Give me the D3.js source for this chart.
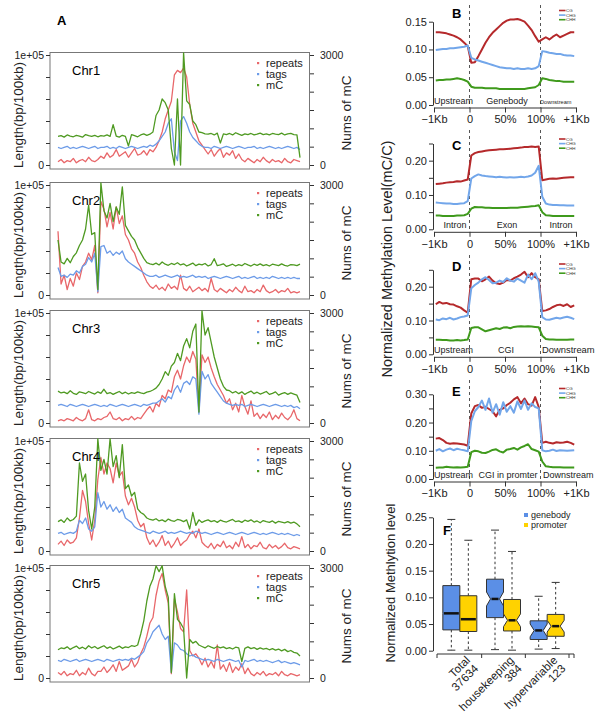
<!DOCTYPE html>
<html>
<head>
<meta charset="utf-8">
<script src="https://d3js.org/d3.v7.min.js"></script>
<style>
body { margin: 0; background: #fff; }
svg { font-family: "Liberation Sans", Arial, sans-serif; }
</style>
</head>
<body>
<svg id="fig" width="600" height="716"></svg>
<script>

// ---------- panel A : repeats / tags (kb per 100kb) and mC counts along each chromosome ----------
var chrNames = ["Chr1", "Chr2", "Chr3", "Chr4", "Chr5"];
var seriesNames = ["repeats", "tags", "mC"];

var chr1Repeats = [3,5,2,4,3,6,2,4,5,3,7,4,3,5, 8,6,11,7,9,14,8,10,12,7,11,15,9,10,13,9,14,12, 16,22,30, 42,50,58, 82,86,84,88,80, 55,38,30, 22,18,14, 10,14,8,12,15,7,11,9,13,6,10, 5,3,6,4,2,5,3,7,4,2,5,3,4,2,6,3,2,5,4,3];
var chr1Tags = [16,15,16,17,15,16,15,16,17,16,15,16,17,15,16,16,17,15,16,15,17,16,15,16,17,16,15,16,17,16,18,17, 19,22,26, 30,38,42, 12,4,40,44,38, 30,25,22, 19,17,16, 16,15,17,16,15,16,17,16,15,16,17,16,15,16,16,17,15,16,15,16,17,16,15,16,15,16,17,16,15,16,14];
var chr1MC = [780,800,760,820,790,770,810,790,760,830,800,780,810,770,800,790,820,780,1100,790,760,810,780,520,830,800,770,820,850,810,840,900, 1350,1500,1800, 1700,1500,450, 0,1800,0,3060,1750, 1650,1200,1100, 900,880,850, 840,860,820,870,600,850,830,860,820,880,840,810,850,830,860,820,840,870,830,850,820,860,840,830,870,820,850,860,830,820,200];

var chr2Repeats = [58,10,18,5,15,8,20,14,26,30,38,32,45,2,85,78,62,75,60,80,65,72,55,50,42,38,30,25,18,12,8,6,9,5,7,4,10,6,8,5,18,6,4,8,3,5,7,4,6,3,15,5,3,6,4,2,5,3,7,4,2,8,3,4,2,5,3,9,4,2,3,5,2,4,3,6,2,3,2,3];
var chr2Tags = [25,17,18,16,19,18,22,20,26,28,34,30,38,3,44,45,38,40,36,39,37,40,33,30,28,26,24,22,20,18,17, 17,18,16,17,18,17,16,17,18,16,17,16,17,18,16,17,16,17,15,16,17,16,15,16,17,16,15,16,17,15,16,15,16,17,15,16,15,16,15,17,16,15,16,15,16,15,16,15,15];
var chr2MC = [1500,900,850,1000,880,1050,1150,1350,1500,1800,2450,1650,1700,150,3060,2300,2100,2500,2000,2400,2200,2950,1900,1750,1600,1500,1300,1150,1000,880,850, 830,870,820,900,840,810,860,830,880,820,850,790,830,870,800,840,820,860,790,830,990,800,820,850,780,810,840,790,830,800,860,820,790,840,810,850,800,830,790,840,820,800,850,810,790,830,820,800,840];

var chr3Repeats = [2,3,2,4,3,2,5,3,2,4,12,3,2,4,3,5,6,10,4,3,5,2,4,3,6,3,5,4,8, 12,15,10, 18,15,25,22,30,28, 42,48,40,52, 60,55,65,58,10,62,55,60,50, 42,35,30,25,18, 22,12,18,10,25,15,8,20, 6,9,4,8,5,10,3,7,4,9,5,3,6,12,4,2];
var chr3Tags = [16,17,16,15,17,16,15,16,17,16,15,16,17,16,15,16,15,17,16,15,16,17,16,15,16,17,16,15,17,16,17,18, 18,20,22,19,24,22, 30,34,28,36, 38,35,42,40,8,47,40,44,36, 32,28,24,20,18, 17,16,17,16,17,15,16,17,16,15,16,17,16,15,16,17,16,15,16,15,16,14,15,13];
var chr3MC = [870,820,840,800,880,810,780,850,830,800,860,820,790,850,810,920,800,830,780,820,860,800,840,790,830,810,850,820,800,840,860,900, 950,1050,1200,1400,1300,1550, 1650,1900,1700,2100, 2300,2050,2500,2700,300,3060,2400,2600,2200, 1800,1500,1200,1000,900, 880,820,860,800,850,780,830,870,800,840,790,820,860,780,810,850,760,800,830,780,820,790,760,560];

var chr4Repeats = [6,9,5,10,7,8,12, 30,55,45, 25,10,28, 65,85,70,80, 75,62,80,68,72, 50,42,48,40, 28,22,25, 12,6,10,4,8,14,5,9,3,7,12,5,8,10, 15,18,12,20,8, 5,3,7,2,6,4,9,3,5,2,8,4,13,3,6,2,5,4,8,3,2,6,3,5,2,4,7,3,2,4,3,2];
var chr4Tags = [16,17,15,16,17,16,18, 28,25,30, 20,18,22, 53,40,45,38, 42,36,40,35,38, 30,28,26,22, 20,19,18, 17,16,18,17,16,17,18,16,17,16,17,18,17,16,17,16,18,17,16,17,16,15,16,17,16,15,16,17,16,15,16,17,16,15,16,17,16,15,16,15,16,17,16,15,16,15,16,15,14,15,14];
var chr4MC = [800,850,780,900,820,860,950, 2400,1900,2100, 1100,600,1200, 3060,2200,2500,2100, 3060,2300,2600,2000,2900, 1700,1800,1500,1600, 1150,1050,1000, 900,860,840,880,820,850,800,870,830,810,860,840,800,850, 600,1050,700,850,780, 820,850,800,830,780,840,810,790,830,860,800,820,780,840,810,850,790,820,770,830,800,780,820,760,810,790,770,800,760,790,740,660];

var chr5Repeats = [5,3,6,2,4,3,7,2,5,3,9,4,2,6, 6,10,5,8,12,6,15,7,9,11,17,10,14, 22,28, 38,50,55, 75,88,95,80, 68,4,72,60, 45,42, 80, 25,20,22,18, 12,18,10,15,9, 30,8,12,6,14,5,10,7,13,4,9, 4,2,5,3,6,2,4,3,5,2,6,3,2,4,3,2,3];
var chr5Tags = [16,15,17,16,15,16,17,15,16,17,16,15,16,17,16,15,17,16,15,16,17,16,17,16,18,17,19, 21,24, 32,36,42, 45,48,40,35, 38,5,32,30, 26,25, 22, 20,21,19,18, 17,16,17,16,15,17,16,15,16,17,16,15,16,10,16,15,16,17,15,16,15,16,15,14,15,16,14,15,14,13,14,13,12];
var chr5MC = [770,820,800,850,780,830,870,800,840,790,880,820,860,800,840,880,810,850,790,830,870,810,850,830,880,860,900, 1200,1560, 2100,2500,2700, 3060,2900,3060,2500, 2200,150,2300,1600, 1500,1350, 0, 1050,950,1000,900, 860,820,880,840,810, 860,820,850,800,830,790,840,820,450,810,850, 800,830,780,820,790,810,770,800,760,790,740,780,720,750,700,680,600];

// ---------- panels B-E : methylation profiles (10 upstream, 20 body, 10 downstream bins) ----------
var contexts = ["CG", "CHG", "CHH"];
var profXLabels = ["\u22121Kb", "0", "50%", "100%", "+1Kb"];

var bCG = [0.131,0.131,0.130,0.129,0.127,0.125,0.122,0.118,0.112,0.106, 0.076,0.077,0.088,0.100,0.112,0.122,0.130,0.136,0.142,0.148,0.152,0.154,0.154,0.155,0.153,0.150,0.143,0.135,0.124,0.114, 0.118,0.122,0.118,0.123,0.127,0.122,0.125,0.128,0.131,0.131];
var bCHG = [0.099,0.100,0.101,0.101,0.102,0.102,0.103,0.104,0.105,0.107, 0.085,0.082,0.080,0.078,0.076,0.074,0.072,0.070,0.068,0.067,0.066,0.066,0.065,0.066,0.065,0.065,0.066,0.065,0.066,0.070, 0.097,0.096,0.094,0.093,0.092,0.092,0.090,0.089,0.089,0.088];
var bCHH = [0.044,0.045,0.045,0.046,0.046,0.047,0.048,0.047,0.045,0.042, 0.033,0.031,0.031,0.031,0.030,0.030,0.030,0.030,0.029,0.029,0.029,0.029,0.029,0.029,0.029,0.029,0.030,0.031,0.032,0.036, 0.048,0.047,0.045,0.044,0.043,0.043,0.042,0.042,0.042,0.042];

var cCG = [0.132,0.133,0.134,0.136,0.137,0.138,0.140,0.139,0.142,0.145, 0.215,0.222,0.225,0.227,0.229,0.230,0.231,0.232,0.233,0.233,0.234,0.235,0.236,0.237,0.238,0.240,0.240,0.241,0.240,0.241, 0.143,0.145,0.147,0.148,0.147,0.149,0.150,0.151,0.152,0.152];
var cCHG = [0.078,0.077,0.076,0.075,0.075,0.074,0.074,0.075,0.076,0.082, 0.148,0.155,0.160,0.157,0.155,0.154,0.153,0.152,0.153,0.152,0.151,0.152,0.151,0.152,0.153,0.152,0.154,0.157,0.165,0.185, 0.095,0.075,0.072,0.071,0.071,0.070,0.070,0.069,0.069,0.069];
var cCHH = [0.040,0.040,0.039,0.039,0.039,0.039,0.040,0.040,0.041,0.045, 0.060,0.065,0.064,0.064,0.063,0.063,0.062,0.062,0.062,0.062,0.062,0.063,0.063,0.063,0.064,0.065,0.066,0.067,0.068,0.070, 0.050,0.041,0.040,0.039,0.039,0.039,0.039,0.039,0.039,0.039];

var dCG = [0.148,0.155,0.150,0.152,0.148,0.147,0.142,0.138,0.130,0.123, 0.222,0.224,0.224,0.216,0.222,0.230,0.218,0.210,0.208,0.212,0.220,0.218,0.225,0.230,0.236,0.244,0.228,0.240,0.228,0.222, 0.128,0.130,0.134,0.140,0.145,0.147,0.143,0.148,0.140,0.145];
var dCHG = [0.103,0.101,0.106,0.104,0.108,0.103,0.106,0.110,0.112,0.115, 0.195,0.205,0.212,0.222,0.228,0.220,0.210,0.212,0.218,0.214,0.225,0.218,0.215,0.224,0.218,0.212,0.236,0.222,0.240,0.215, 0.110,0.103,0.102,0.105,0.108,0.106,0.109,0.111,0.108,0.104];
var dCHH = [0.043,0.043,0.042,0.042,0.041,0.041,0.042,0.041,0.042,0.044, 0.078,0.080,0.080,0.074,0.068,0.071,0.074,0.077,0.075,0.079,0.080,0.077,0.081,0.082,0.083,0.082,0.083,0.082,0.081,0.080, 0.055,0.045,0.044,0.044,0.043,0.043,0.043,0.043,0.044,0.044];

var eCG = [0.143,0.145,0.138,0.128,0.125,0.127,0.126,0.124,0.122,0.118, 0.232,0.258,0.262,0.252,0.256,0.248,0.240,0.222,0.245,0.250,0.262,0.270,0.282,0.290,0.268,0.285,0.265,0.260,0.290,0.255, 0.128,0.132,0.128,0.126,0.130,0.128,0.129,0.132,0.128,0.122];
var eCHG = [0.100,0.106,0.098,0.104,0.108,0.102,0.107,0.104,0.102,0.098, 0.205,0.240,0.255,0.278,0.245,0.285,0.235,0.265,0.228,0.272,0.238,0.258,0.235,0.275,0.248,0.278,0.245,0.268,0.255,0.250, 0.102,0.098,0.100,0.104,0.099,0.102,0.101,0.100,0.101,0.102];
var eCHH = [0.040,0.041,0.041,0.043,0.042,0.041,0.042,0.041,0.042,0.043, 0.095,0.100,0.098,0.093,0.092,0.097,0.103,0.105,0.098,0.094,0.104,0.106,0.110,0.104,0.112,0.117,0.123,0.106,0.102,0.097, 0.062,0.045,0.043,0.042,0.042,0.042,0.041,0.041,0.041,0.041];

// ---------- panel F : box plots ----------
var fGroups = ["Total", "housekeeping", "hypervariable"];
var fGroupSizes = ["37634", "384", "123"];
var fSeries = ["genebody", "promoter"];
var gbWhiskHi = [0.246, 0.226, 0.102], gbQ3 = [0.122, 0.134, 0.056], gbMed = [0.070, 0.097, 0.038], gbQ1 = [0.039, 0.062, 0.021], gbWhiskLo = [0.001, 0.002, 0.003], gbNotch = [0, 0.013, 0.012];
var prWhiskHi = [0.207, 0.186, 0.128], prQ3 = [0.103, 0.096, 0.068], prMed = [0.059, 0.057, 0.046], prQ1 = [0.036, 0.037, 0.027], prWhiskLo = [0.001, 0.001, 0.004], prNotch = [0, 0.012, 0.011];

// ================= drawing =================
var svg = d3.select("#fig");
var tickCol = "#333";

function styleAxis(g, size) {
  g.attr("font-size", size).attr("font-family", null);
  g.selectAll("line,path").attr("stroke", tickCol);
  g.selectAll("text").attr("fill", "#222");
}

// ---- A ----
svg.append("text").attr("x", 57).attr("y", 25).attr("font-weight", "bold").attr("font-size", 13).text("A");

var chrTops = [55, 185, 313, 441, 568];
var repeatsAll = [chr1Repeats, chr2Repeats, chr3Repeats, chr4Repeats, chr5Repeats];
var tagsAll = [chr1Tags, chr2Tags, chr3Tags, chr4Tags, chr5Tags];
var mcAll = [chr1MC, chr2MC, chr3MC, chr4MC, chr5MC];
var aColors = ["#e8676a", "#6c9be8", "#4f9a22"];
var chrX = d3.scaleLinear().domain([0, 1]).range([58, 300]);

chrNames.forEach(function(name, i) {
  var t = chrTops[i], b = t + 110;
  var yLen = d3.scaleLinear().domain([0, 100]).range([b, t]);
  var yMC = d3.scaleLinear().domain([0, 3000]).range([b, t]);
  var g = svg.append("g");

  g.append("rect").attr("x", 50).attr("y", t - 2.5).attr("width", 259.5).attr("height", 116.5)
    .attr("fill", "none").attr("stroke", "#777").attr("stroke-width", 1);

  var axL = g.append("g").attr("transform", "translate(50,0)")
    .call(d3.axisLeft(yLen).tickValues([0, 20, 40, 60, 80, 100]).tickSize(4).tickSizeOuter(0).tickPadding(2)
      .tickFormat(function(d) { return d === 0 ? "0" : d === 100 ? "1e+05" : ""; }));
  axL.select(".domain").remove();
  styleAxis(axL, 10.5);

  var axR = g.append("g").attr("transform", "translate(310,0)")
    .call(d3.axisRight(yMC).tickValues(d3.range(0, 3001, 500)).tickSize(4).tickSizeOuter(0).tickPadding(6)
      .tickFormat(function(d) { return d === 0 || d === 3000 ? String(d) : ""; }));
  axR.select(".domain").remove();
  styleAxis(axR, 10.5);

  var series = [repeatsAll[i], tagsAll[i], mcAll[i]];
  var scales = [yLen, yLen, yMC];
  series.forEach(function(arr, k) {
    var line = d3.line()
      .x(function(d, j) { return chrX(j / (arr.length - 1)); })
      .y(function(d) { return scales[k](d); });
    g.append("path").datum(arr).attr("d", line).attr("fill", "none")
      .attr("stroke", aColors[k]).attr("stroke-width", 1.3).attr("stroke-linejoin", "round");
  });

  g.append("text").attr("x", 72).attr("y", t + 20).attr("font-size", 13).text(name);

  seriesNames.forEach(function(s, k) {
    var ly = t + 8 + k * 11;
    g.append("rect").attr("x", 257).attr("y", ly - 1).attr("width", 2.2).attr("height", 2.2).attr("fill", aColors[k]);
    g.append("text").attr("x", 266).attr("y", ly + 4).attr("font-size", 11).attr("fill", "#222").text(s);
  });

  g.append("text").attr("transform", "translate(18," + (t + 60) + ") rotate(-90)")
    .attr("text-anchor", "middle").attr("dominant-baseline", "central").attr("font-size", 13.5).attr("fill", "#222")
    .text("Length(bp/100kb)");
  g.append("text").attr("transform", "translate(346," + (t + 58) + ") rotate(-90)")
    .attr("text-anchor", "middle").attr("dominant-baseline", "central").attr("font-size", 13.5).attr("fill", "#222")
    .text("Nums of mC");
});

// ---- B-E ----
var profX = d3.scaleLinear().domain([0, 4]).range([434, 576]);
function binPos(j) {
  if (j < 10) return (j + 0.5) / 10;
  if (j < 30) return 1 + 2 * (j - 10 + 0.5) / 20;
  return 3 + (j - 30 + 0.5) / 10;
}
var profColors = ["#b5292b", "#72a6ea", "#3f9a1c"];

var profPanels = [
  { letter: "B", series: [bCG, bCHG, bCHH], y0: 105, yMax: 21.7, max: 0.15, ticks: [0, 0.05, 0.1, 0.15], labelled: [0, 0.05, 0.1, 0.15],
    letterY: 18, legendY: 10.5, dashTop: 5,
    regions: [{ t: "Upstream", x: 434, a: "start", s: 9 }, { t: "Genebody", x: 507, a: "middle", s: 9 }, { t: "Downstream", x: 540, a: "start", s: 5.6 }] },
  { letter: "C", series: [cCG, cCHG, cCHH], y0: 229.3, yMax: 143.5, max: 0.25, ticks: [0, 0.05, 0.1, 0.15, 0.2, 0.25], labelled: [0, 0.1, 0.2],
    letterY: 149.5, legendY: 139, dashTop: 130,
    regions: [{ t: "Intron", x: 455, a: "middle", s: 9 }, { t: "Exon", x: 507, a: "middle", s: 9 }, { t: "Intron", x: 561, a: "middle", s: 9 }] },
  { letter: "D", series: [dCG, dCHG, dCHH], y0: 354.3, yMax: 269.8, max: 0.25, ticks: [0, 0.05, 0.1, 0.15, 0.2, 0.25], labelled: [0, 0.1, 0.2],
    letterY: 271, legendY: 264, dashTop: 255,
    regions: [{ t: "Upstream", x: 434, a: "start", s: 9 }, { t: "CGI", x: 506, a: "middle", s: 9 }, { t: "Downstream", x: 542, a: "start", s: 9.4 }] },
  { letter: "E", series: [eCG, eCHG, eCHH], y0: 479, yMax: 394.3, max: 0.30, ticks: [0, 0.05, 0.1, 0.15, 0.2, 0.25, 0.3], labelled: [0, 0.1, 0.2, 0.3],
    letterY: 396, legendY: 388.5, dashTop: 380,
    regions: [{ t: "Upstream", x: 434, a: "start", s: 9 }, { t: "CGI in promter", x: 508, a: "middle", s: 9 }, { t: "Downstream", x: 543, a: "start", s: 9 }] }
];

profPanels.forEach(function(p) {
  var g = svg.append("g");
  var y = d3.scaleLinear().domain([0, p.max]).range([p.y0, p.yMax]);

  [1, 3].forEach(function(v) {
    g.append("line").attr("x1", profX(v)).attr("x2", profX(v)).attr("y1", p.dashTop).attr("y2", p.y0 + 2.5)
      .attr("stroke", "#555").attr("stroke-dasharray", "3,3");
  });

  var ay = g.append("g").attr("transform", "translate(433,0)")
    .call(d3.axisLeft(y).tickValues(p.ticks).tickSize(4).tickSizeOuter(0).tickPadding(2)
      .tickFormat(function(d) { return p.labelled.some(function(l) { return Math.abs(l - d) < 1e-9; }) ? d3.format(".2f")(d) : ""; }));
  styleAxis(ay, 11);

  var ax = g.append("g").attr("transform", "translate(0," + (p.y0 + 2.5) + ")")
    .call(d3.axisBottom(profX).tickValues([0, 1, 2, 3, 4]).tickSize(5).tickSizeOuter(0).tickPadding(3)
      .tickFormat(function(d, i) { return profXLabels[i]; }));
  styleAxis(ax, 11);

  p.series.forEach(function(arr, k) {
    var line = d3.line().x(function(d, j) { return profX(binPos(j)); }).y(function(d) { return y(d); });
    g.append("path").datum(arr).attr("d", line).attr("fill", "none")
      .attr("stroke", profColors[k]).attr("stroke-width", 2).attr("stroke-linejoin", "round");
  });

  p.regions.forEach(function(r) {
    g.append("text").attr("x", r.x).attr("y", p.y0 - 1.5).attr("text-anchor", r.a)
      .attr("font-size", r.s).attr("fill", "#222").text(r.t);
  });

  g.append("text").attr("x", 452).attr("y", p.letterY).attr("font-weight", "bold").attr("font-size", 13).text(p.letter);

  contexts.forEach(function(c, k) {
    var ly = p.legendY + k * 4.6;
    g.append("line").attr("x1", 559).attr("x2", 565.5).attr("y1", ly).attr("y2", ly)
      .attr("stroke", profColors[k]).attr("stroke-width", 1.6);
    g.append("text").attr("x", 566).attr("y", ly + 1.6).attr("font-size", 4.4).attr("fill", "#333").text(c);
  });
});

svg.append("text").attr("transform", "translate(387,259) rotate(-90)")
  .attr("text-anchor", "middle").attr("dominant-baseline", "central").attr("font-size", 14.5).attr("fill", "#222")
  .text("Normalized Methylation Level(mC/C)");

// ---- F ----
var fy = d3.scaleLinear().domain([0, 0.25]).range([650.7, 517.3]);
var fx = d3.scaleBand().domain(fGroups).range([438, 569]);
var fColors = ["#5b8fe6", "#ffd200"];
var boxW = 17;
var fg = svg.append("g");

var afy = fg.append("g").attr("transform", "translate(433,0)")
  .call(d3.axisLeft(fy).tickValues([0, 0.05, 0.1, 0.15, 0.2, 0.25]).tickSize(4).tickSizeOuter(0).tickPadding(2)
    .tickFormat(d3.format(".2f")));
styleAxis(afy, 11);

fg.append("line").attr("x1", 437).attr("x2", 574).attr("y1", 654).attr("y2", 654).attr("stroke", tickCol);
var bounds = fGroups.map(function(gname) { return fx(gname); }).concat([fx.range()[1], 574]);
bounds[0] = 437;
fg.selectAll(".fxtick").data(bounds).enter().append("line")
  .attr("x1", function(d) { return d; }).attr("x2", function(d) { return d; })
  .attr("y1", 654).attr("y2", 658).attr("stroke", tickCol);

var statsBySeries = [
  { hi: gbWhiskHi, q3: gbQ3, med: gbMed, q1: gbQ1, lo: gbWhiskLo, notch: gbNotch },
  { hi: prWhiskHi, q3: prQ3, med: prMed, q1: prQ1, lo: prWhiskLo, notch: prNotch }
];

statsBySeries.forEach(function(st, s) {
  fGroups.forEach(function(gname, i) {
    var cx = fx(gname) + fx.bandwidth() / 2;
    var x0 = s === 0 ? cx - boxW : cx, x1 = x0 + boxW, xm = (x0 + x1) / 2;
    var ind = st.notch[i] > 0 ? 4 : 0;
    // whiskers
    fg.append("line").attr("x1", xm).attr("x2", xm).attr("y1", fy(st.q3[i])).attr("y2", fy(st.hi[i]))
      .attr("stroke", "#333").attr("stroke-dasharray", "2.5,2.5");
    fg.append("line").attr("x1", xm).attr("x2", xm).attr("y1", fy(st.q1[i])).attr("y2", fy(st.lo[i]))
      .attr("stroke", "#333").attr("stroke-dasharray", "2.5,2.5");
    [st.hi[i], st.lo[i]].forEach(function(v) {
      fg.append("line").attr("x1", xm - 4).attr("x2", xm + 4).attr("y1", fy(v)).attr("y2", fy(v)).attr("stroke", "#333");
    });
    // box (notched)
    var nHi = fy(st.med[i] + st.notch[i]), nLo = fy(st.med[i] - st.notch[i]), ym = fy(st.med[i]);
    var pts = [[x0, fy(st.q3[i])], [x1, fy(st.q3[i])], [x1, nHi], [x1 - ind, ym], [x1, nLo], [x1, fy(st.q1[i])],
               [x0, fy(st.q1[i])], [x0, nLo], [x0 + ind, ym], [x0, nHi]];
    fg.append("polygon").attr("points", pts.map(function(p) { return p.join(","); }).join(" "))
      .attr("fill", fColors[s]).attr("stroke", "#333").attr("stroke-width", 1);
    fg.append("line").attr("x1", x0 + ind + 1).attr("x2", x1 - ind - 1).attr("y1", ym).attr("y2", ym)
      .attr("stroke", "#111").attr("stroke-width", 2.5);
  });
});

fGroups.forEach(function(gname, i) {
  var cx = fx(gname) + fx.bandwidth() / 2;
  var t = fg.append("text").attr("transform", "translate(" + (cx + 11) + ",661) rotate(-45)")
    .attr("text-anchor", "end").attr("font-size", 11.5).attr("fill", "#222");
  t.append("tspan").attr("x", 0).attr("y", 0).text(gname);
  t.append("tspan").attr("x", 0).attr("y", 11.5).text(fGroupSizes[i]);
});

fSeries.forEach(function(s, k) {
  fg.append("rect").attr("x", 524).attr("y", 513 + k * 10).attr("width", 4).attr("height", 4).attr("fill", fColors[k]);
  fg.append("text").attr("x", 531).attr("y", 518 + k * 10).attr("font-size", 9).attr("fill", "#222").text(s);
});

fg.append("text").attr("x", 443).attr("y", 535).attr("font-weight", "bold").attr("font-size", 13).text("F");

svg.append("text").attr("transform", "translate(390,583) rotate(-90)")
  .attr("text-anchor", "middle").attr("dominant-baseline", "central").attr("font-size", 13).attr("fill", "#222")
  .text("Normalized Methlytion level");

</script>
</body>
</html>
